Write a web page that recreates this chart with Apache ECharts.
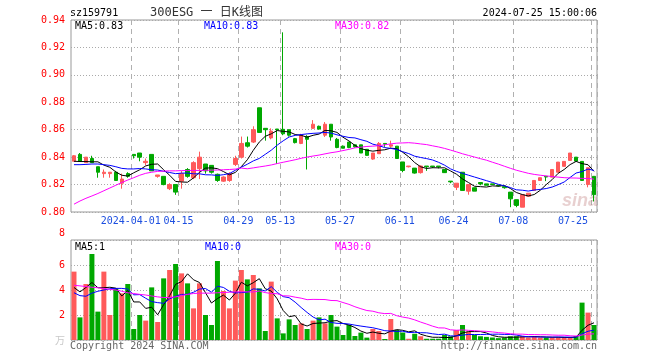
<!DOCTYPE html>
<html><head><meta charset="utf-8">
<script src="https://cdn.jsdelivr.net/npm/echarts@6/dist/echarts.min.js"></script>
<style>html,body{margin:0;padding:0;background:#fff}#c{width:660px;height:360px}</style>
</head><body><div id="c"></div>
<script>
// ---- data ----
const dates = ['2024-03-18','2024-03-19','2024-03-20','2024-03-21','2024-03-22','2024-03-25','2024-03-26','2024-03-27','2024-03-28','2024-03-29',
'2024-04-01','2024-04-02','2024-04-03','2024-04-08','2024-04-09','2024-04-10','2024-04-11','2024-04-12','2024-04-15','2024-04-16',
'2024-04-17','2024-04-18','2024-04-19','2024-04-22','2024-04-23','2024-04-24','2024-04-25','2024-04-26','2024-04-29','2024-04-30',
'2024-05-06','2024-05-07','2024-05-08','2024-05-09','2024-05-10','2024-05-13','2024-05-14','2024-05-15','2024-05-16','2024-05-17',
'2024-05-20','2024-05-21','2024-05-22','2024-05-23','2024-05-24','2024-05-27','2024-05-28','2024-05-29','2024-05-30','2024-05-31',
'2024-06-03','2024-06-04','2024-06-05','2024-06-06','2024-06-07','2024-06-11','2024-06-12','2024-06-13','2024-06-14','2024-06-17',
'2024-06-18','2024-06-19','2024-06-20','2024-06-21','2024-06-24','2024-06-25','2024-06-26','2024-06-27','2024-06-28','2024-07-01',
'2024-07-02','2024-07-03','2024-07-04','2024-07-05','2024-07-08','2024-07-09','2024-07-10','2024-07-11','2024-07-12','2024-07-15',
'2024-07-16','2024-07-17','2024-07-18','2024-07-19','2024-07-22','2024-07-23','2024-07-24','2024-07-25'];
const open  = [0.837,0.842,0.836,0.839,0.833,0.828,0.828,0.829,0.821,0.828, 0.842,0.843,0.836,0.842,0.826,0.826,0.817,0.820,0.8225,0.831,
0.825,0.8316,0.835,0.834,0.8275,0.8225,0.823,0.8347,0.840,0.8505, 0.851,0.876,0.861,0.854,0.8605,0.8603,0.860,0.8535,0.850,0.855,
0.861,0.8625,0.856,0.864,0.853,0.848,0.851,0.849,0.849,0.8457, 0.8386,0.8425,0.850,0.848,0.848,0.8365,0.833,0.832,0.8287,0.8335,
0.8335,0.8335,0.831,0.8225,0.818,0.829,0.8152,0.8177,0.8215,0.8205, 0.8205,0.8195,0.8185,0.8145,0.809,0.8035,0.8115,0.8157,0.823,0.826,
0.8254,0.829,0.8333,0.8376,0.840,0.8369,0.820,0.826];
const close = [0.841,0.837,0.840,0.836,0.829,0.829,0.829,0.823,0.824,0.826, 0.841,0.840,0.837,0.830,0.827,0.820,0.820,0.8145,0.828,0.826,
0.836,0.840,0.830,0.829,0.823,0.8255,0.828,0.839,0.850,0.848, 0.860,0.858,0.860,0.859,0.860,0.857,0.856,0.8506,0.856,0.853,
0.864,0.8605,0.864,0.8547,0.847,0.8465,0.847,0.8475,0.843,0.8413, 0.843,0.850,0.8495,0.849,0.839,0.8303,0.8335,0.8284,0.8335,0.833,
0.833,0.833,0.8287,0.822,0.821,0.8157,0.820,0.8152,0.8205,0.8195, 0.820,0.819,0.8177,0.8096,0.8048,0.8126,0.8137,0.823,0.825,0.8255,
0.831,0.8364,0.8369,0.843,0.8371,0.823,0.8323,0.8126];
const high  = [0.8415,0.843,0.840,0.841,0.833,0.831,0.829,0.830,0.828,0.829, 0.842,0.843,0.839,0.842,0.827,0.826,0.821,0.820,0.830,0.832,
0.837,0.844,0.835,0.834,0.828,0.826,0.829,0.841,0.855,0.855, 0.8625,0.876,0.861,0.861,0.8605,0.931,0.860,0.854,0.857,0.856,
0.867,0.863,0.8656,0.864,0.854,0.8485,0.851,0.849,0.849,0.8457, 0.843,0.851,0.850,0.852,0.848,0.8365,0.8335,0.832,0.834,0.8335,
0.8335,0.8335,0.831,0.8225,0.821,0.829,0.820,0.8177,0.8215,0.8205, 0.8205,0.8195,0.8185,0.8145,0.809,0.8126,0.8137,0.823,0.825,0.826,
0.831,0.8364,0.8369,0.843,0.840,0.8369,0.8323,0.826];
const low   = [0.837,0.837,0.836,0.836,0.825,0.825,0.825,0.823,0.817,0.825, 0.839,0.837,0.834,0.830,0.825,0.8195,0.816,0.8125,0.817,0.825,
0.824,0.824,0.828,0.828,0.822,0.822,0.822,0.8335,0.839,0.847, 0.8503,0.858,0.852,0.853,0.835,0.856,0.855,0.850,0.8495,0.831,
0.8605,0.860,0.8547,0.852,0.8465,0.8465,0.8465,0.847,0.843,0.841, 0.838,0.8425,0.8475,0.847,0.839,0.829,0.8325,0.828,0.828,0.830,
0.832,0.8318,0.8285,0.821,0.816,0.8157,0.8126,0.8152,0.8195,0.8195, 0.820,0.8185,0.817,0.8035,0.8035,0.8035,0.8115,0.8157,0.823,0.8225,
0.8254,0.829,0.8333,0.8376,0.8371,0.823,0.818,0.8077];
const volume = [5.47,1.81,4.48,6.88,2.27,5.47,2.0,4.13,3.73,4.48, 0.88,2.0,1.55,4.21,1.44,4.93,5.6,6.08,5.33,4.53,
2.53,4.53,2.0,1.2,6.32,3.92,2.53,4.75,5.6,4.85, 5.2,4.13,0.72,4.67,1.73,0.53,1.65,1.2,1.33,0.88,
1.55,1.81,1.33,2.0,1.07,0.4,1.2,0.32,0.59,0.19, 0.88,0.72,0.08,1.68,0.8,0.6,0.1,0.5,0.3,0.1,
0.1,0.1,0.4,0.3,0.8,1.2,0.67,0.4,0.3,0.25, 0.2,0.15,0.2,0.3,0.3,0.3,0.2,0.3,0.2,0.2,
0.2,0.2,0.2,0.2,0.32,2.99,2.19,1.2];
// moving-average values before enough in-window data exists
const ma5Head  = [0.837,0.8368,0.8368,0.8366];
const ma10Head = [0.8345,0.8345,0.8347,0.835,0.835,0.8345,0.834,0.833,0.8318];
const ma30Head = [0.8057,0.808,0.810,0.8117,0.8135,0.8155,0.8175,0.8195,0.8215,0.8233,0.825,0.8268,0.8282,0.829,0.8296,
0.8298,0.830,0.830,0.8302,0.8303,0.8303,0.8303,0.8304,0.8305,0.8306,0.8308,0.831,0.8313,0.832];
const vma5Head  = [4.2,3.85,4.2,4.6];
const vma10Head = [3.78,3.55,3.5,3.75,3.9,4.0,4.1,4.13,4.13];
const vma30Head = [4.38,4.33,4.28,4.22,4.18,4.12,4.05,4.0,3.9,3.78,3.72,3.65,3.6,3.52,3.45,3.4,3.4,3.45,3.55,3.65,3.72,3.75,3.75,3.75,3.78,3.8,3.82,3.85,3.86];
const tickDates  = ['2024-04-01','2024-04-15','2024-04-29','2024-05-13','2024-05-27','2024-06-11','2024-06-24','2024-07-08','2024-07-25'];
const tickLabels = ['2024-04-01','04-15','04-29','05-13','05-27','06-11','06-24','07-08','07-25'];
const priceTicks = {min:0.80, max:0.94, step:0.02};
const volTicks = {min:0, max:8, step:2};
const legendPrice = ['MA5:0.83','MA10:0.83','MA30:0.82'];
const legendVol = ['MA5:1','MA10:0','MA30:0'];

// ---- build ----
function movingAvg(arr, n, head){
  return arr.map((v,i)=>{ if(i<n-1) return head[i]; let s=0; for(let k=i-n+1;k<=i;k++) s+=arr[k]; return +(s/n).toFixed(5); });
}
const UP='#ff5a5a', DOWN='#00a800';
const MONO='DejaVu Sans Mono, monospace';
const tickIdx = new Map(tickDates.map((d,k)=>[dates.indexOf(d), tickLabels[k]]));
const candle = dates.map((d,i)=>[open[i],close[i],low[i],high[i]]);
const volData = volume.map((v,i)=>({value:v,itemStyle:{color: close[i]>=open[i]?UP:DOWN}}));
const lineS = (name,data,color,xi,yi)=>({name,type:'line',data,xAxisIndex:xi,yAxisIndex:yi,symbol:'none',smooth:false,
  lineStyle:{color,width:1},z:5,silent:true});
const xBase = (gi,showLabel)=>({type:'category',gridIndex:gi,data:dates,boundaryGap:true,
  axisLine:{show:false},axisTick:{show:false},
  axisLabel:{show:showLabel,interval:(i)=>tickIdx.has(i),formatter:(v,i)=>tickIdx.get(i)||'',
    color:'#1d4fe0',fontFamily:MONO,fontSize:10,margin:4,padding:[0,6,0,0],alignMaxLabel:'right'},
  splitLine:{show:true,interval:(i)=>tickIdx.has(i),lineStyle:{color:'#b0b0b0',width:1,type:[5,4]}}});
const option = {
  animation:false,
  backgroundColor:'#ffffff',
  grid:[{left:71,top:20,width:526,height:192,show:true,borderColor:'#999',borderWidth:1,backgroundColor:'transparent'},
        {left:71,top:240,width:526,height:100,show:true,borderColor:'#999',borderWidth:1,backgroundColor:'transparent'}],
  xAxis:[xBase(0,true), xBase(1,false)],
  yAxis:[
    {type:'value',gridIndex:0,min:priceTicks.min,max:priceTicks.max,interval:priceTicks.step,
     axisLine:{show:false},axisTick:{show:false},
     axisLabel:{color:'#f00',fontFamily:MONO,fontSize:10,margin:6,formatter:v=>v.toFixed(2)},
     splitLine:{lineStyle:{color:'#aaa',width:1,type:[1,2]}}},
    {type:'value',gridIndex:1,min:volTicks.min,max:volTicks.max,interval:volTicks.step,
     axisLine:{show:false},axisTick:{show:false},
     axisLabel:{color:'#f00',fontFamily:MONO,fontSize:10,margin:6,
       formatter:v=>v===0?'{w|万}':(v===volTicks.max?'{t|'+v+'}':String(v)),
       rich:{w:{color:'#c8c8c8',fontSize:10,fontFamily:'Noto Sans CJK SC'},
             t:{color:'#f00',fontSize:10,fontFamily:MONO,padding:[0,0,14,0]}}},
     splitLine:{lineStyle:{color:'#aaa',width:1,type:[1,2]}}}
  ],
  series:[
    {type:'candlestick',xAxisIndex:0,yAxisIndex:0,data:candle,barWidth:4,
     itemStyle:{color:UP,color0:DOWN,borderColor:UP,borderColor0:DOWN,borderWidth:1},z:3},
    lineS('MA5',movingAvg(close,5,ma5Head),'#000000',0,0),
    lineS('MA10',movingAvg(close,10,ma10Head),'#0000ff',0,0),
    lineS('MA30',movingAvg(close,30,ma30Head),'#ff00ff',0,0),
    {type:'bar',xAxisIndex:1,yAxisIndex:1,data:volData,barWidth:5,z:3},
    lineS('VMA5',movingAvg(volume,5,vma5Head),'#000000',1,1),
    lineS('VMA10',movingAvg(volume,10,vma10Head),'#0000ff',1,1),
    lineS('VMA30',movingAvg(volume,30,vma30Head),'#ff00ff',1,1)
  ],
  graphic:[
    {type:'text',left:70,top:8,style:{text:'sz159791',font:'10px '+MONO,fill:'#000'}},
    {type:'text',left:150,top:7,style:{text:'300ESG 一 日K线图',font:'12px DejaVu Sans Mono, Noto Sans CJK SC',fill:'#333'}},
    {type:'text',right:63,top:8,style:{text:'2024-07-25 15:00:06',font:'10px '+MONO,fill:'#000'}},
    {type:'text',left:75,top:21,z:10,style:{text:legendPrice[0],font:'10px '+MONO,fill:'#000'}},
    {type:'text',left:204,top:21,z:10,style:{text:legendPrice[1],font:'10px '+MONO,fill:'#0000ff'}},
    {type:'text',left:335,top:21,z:10,style:{text:legendPrice[2],font:'10px '+MONO,fill:'#ff00ff'}},
    {type:'text',left:75,top:242,z:10,style:{text:legendVol[0],font:'10px '+MONO,fill:'#000'}},
    {type:'text',left:205,top:242,z:10,style:{text:legendVol[1],font:'10px '+MONO,fill:'#0000ff'}},
    {type:'text',left:335,top:242,z:10,style:{text:legendVol[2],font:'10px '+MONO,fill:'#ff00ff'}},
    {type:'text',left:70,top:341,style:{text:'Copyright 2024 SINA.COM',font:'10px '+MONO,fill:'#666'}},
    {type:'text',right:63,top:341,style:{text:'http://finance.sina.com.cn',font:'10px '+MONO,fill:'#666'}},
    {type:'text',left:562,top:192,z:1,style:{text:'sina',font:'italic bold 18px Liberation Sans',fill:'rgba(190,120,120,0.35)'}}
  ]
};
echarts.init(document.getElementById('c')).setOption(option);
</script></body></html>
